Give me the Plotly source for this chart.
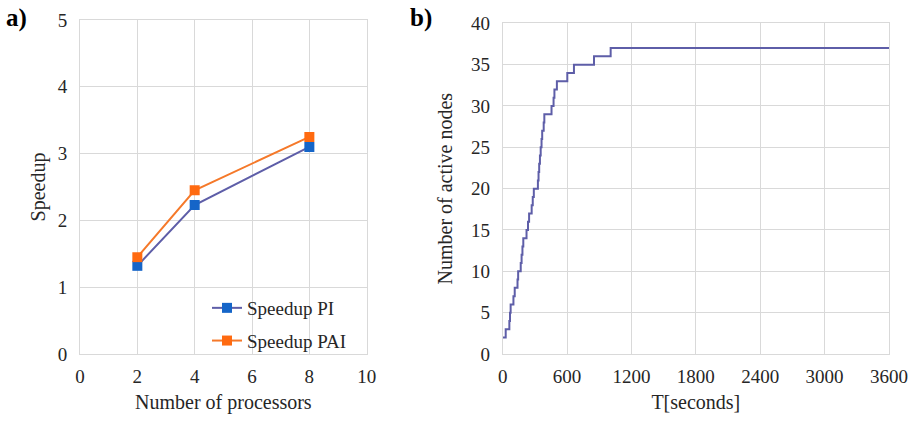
import plotly.graph_objects as go

# ---- data: panel a ----
processors = [2, 4, 8]
speedup_pi = [1.32, 2.23, 3.10]
speedup_pai = [1.45, 2.45, 3.25]

# ---- data: panel b (step function) ----
t_seconds = [0, 28, 62, 68, 74, 100, 112, 138, 144, 168, 176, 184, 192, 222, 236, 246,
             270, 280, 290, 328, 334, 340, 347, 354, 362, 368, 382, 388, 455, 474, 482,
             505, 602, 664, 851, 1006, 3600]
active_nodes = [2, 3, 4, 5, 6, 7, 8, 9, 10, 11, 12, 13, 14, 15, 16, 17,
                18, 19, 20, 21, 22, 23, 24, 25, 26, 27, 28, 29, 30, 31, 32,
                33, 34, 35, 36, 37, 37]

W, H = 916, 421
ML, MR, MT, MB = 80, 27, 20, 67
PW = W - ML - MR
PH = H - MT - MB

def px_x(px):
    return (px - ML) / PW

def px_y(py):
    return (H - MB - py) / PH

FONT = "Liberation Serif, Times New Roman, serif"
GRID = "#d9d9d9"
TXT = "#262626"
BLUE = "#1565C8"
PURPLE = "#5E5EA8"
ORANGE = "#FF6A10"

fig = go.Figure()
fig.add_trace(go.Scatter(
    x=processors, y=speedup_pi, name="Speedup PI", mode="lines+markers",
    line=dict(color=PURPLE, width=2), marker=dict(symbol="square", size=10, color=BLUE),
    xaxis="x", yaxis="y", legendgroup="a"))
fig.add_trace(go.Scatter(
    x=processors, y=speedup_pai, name="Speedup PAI", mode="lines+markers",
    line=dict(color="#F5792A", width=2), marker=dict(symbol="square", size=10, color=ORANGE),
    xaxis="x", yaxis="y", legendgroup="b"))
fig.add_trace(go.Scatter(
    x=t_seconds, y=active_nodes, mode="lines", line=dict(color=PURPLE, width=2, shape="hv"),
    showlegend=False, xaxis="x2", yaxis="y2"))

axis_common = dict(showgrid=True, gridcolor=GRID, gridwidth=1, showline=True, linecolor=GRID,
                   linewidth=1, mirror=True, zeroline=False, ticks="", automargin=False,
                   tickfont=dict(family=FONT, size=19, color=TXT),
                   title_font=dict(family=FONT, size=20, color=TXT))

fig.update_layout(
    width=W, height=H, margin=dict(l=ML, r=MR, t=MT, b=MB, autoexpand=False),
    paper_bgcolor="white", plot_bgcolor="white",
    font=dict(family=FONT, color=TXT),
    xaxis=dict(domain=[0, px_x(366.7)], range=[0, 10], dtick=2, ticklabelstandoff=5,
               title=dict(text="Number of processors", standoff=9), **axis_common),
    yaxis=dict(domain=[0, 1], range=[0, 5], dtick=1, anchor="x", ticklabelstandoff=8,
               title=dict(text="Speedup", standoff=6), **axis_common),
    xaxis2=dict(domain=[px_x(502.7), 1], range=[0, 3600], dtick=600, anchor="y2",
                ticklabelstandoff=5,
                title=dict(text="T[seconds]", standoff=9), **axis_common),
    yaxis2=dict(domain=[0, px_y(23.3)], range=[0, 40], dtick=5, anchor="x2",
                ticklabelstandoff=8,
                title=dict(text="Number of active nodes", standoff=12), **axis_common),
    legend=dict(x=px_x(207), y=px_y(289), xanchor="left", yanchor="top",
                bgcolor="rgba(0,0,0,0)", font=dict(family=FONT, size=19, color=TXT),
                tracegroupgap=5, itemwidth=30),
    annotations=[
        dict(text="<b>a)</b>", x=px_x(4), y=px_y(18), xref="paper", yref="paper",
             xanchor="left", yanchor="middle", showarrow=False,
             font=dict(family=FONT, size=25, color="black")),
        dict(text="<b>b)</b>", x=px_x(408), y=px_y(18), xref="paper", yref="paper",
             xanchor="left", yanchor="middle", showarrow=False,
             font=dict(family=FONT, size=25, color="black")),
    ],
)

fig.write_html("out.html")
